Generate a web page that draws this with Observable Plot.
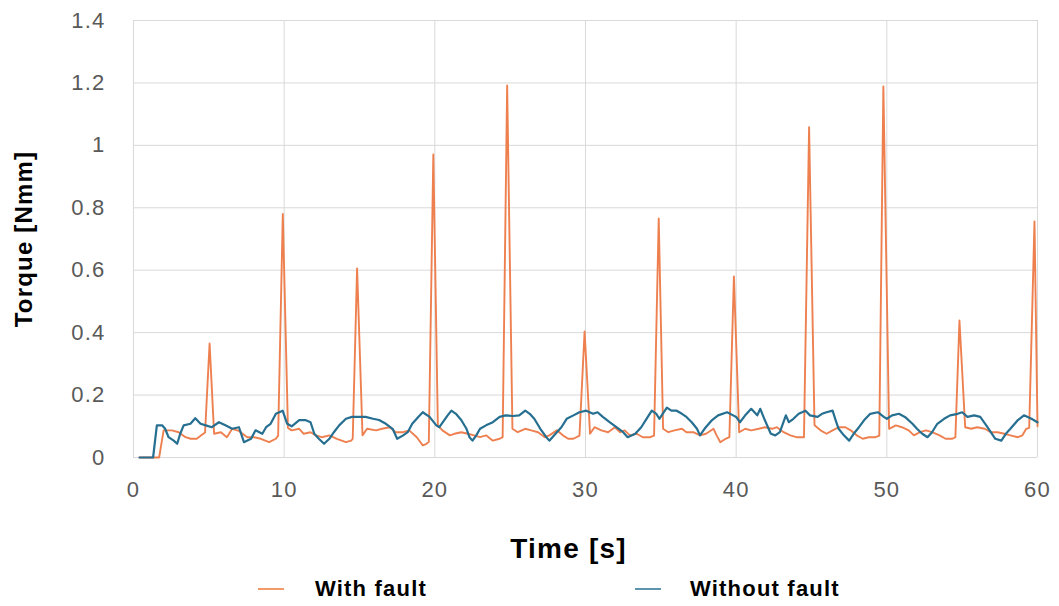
<!DOCTYPE html>
<html>
<head>
<meta charset="utf-8">
<script src="https://cdn.jsdelivr.net/npm/d3@7"></script>
<script src="https://cdn.jsdelivr.net/npm/@observablehq/plot@0.6"></script>
<style>
  html, body { margin: 0; padding: 0; background: #fff; }
  body { width: 1059px; height: 606px; overflow: hidden; font-family: "Liberation Sans", Arial, sans-serif; }
  #legend { position: relative; width: 1059px; height: 41px; }
  .sw { position: absolute; top: 23px; height: 2px; width: 26px; }
  .lt { position: absolute; top: 11px; font-weight: bold; font-size: 22px; letter-spacing: 1.2px; color: #000; }
</style>
</head>
<body>
<div id="chart"></div>
<div id="legend">
  <div class="sw" style="left:258px;background:#F29A68"></div>
  <div class="lt" style="left:315px">With fault</div>
  <div class="sw" style="left:635px;background:#5C93AD"></div>
  <div class="lt" style="left:690px">Without fault</div>
</div>
<script>
const seriesNames = ["With fault", "Without fault"];
const xTicks = [0, 10, 20, 30, 40, 50, 60];
const yTicks = [0, 0.2, 0.4, 0.6, 0.8, 1, 1.2, 1.4];
const yTickLabels = ["0", "0.2", "0.4", "0.6", "0.8", "1", "1.2", "1.4"];

const timeFault = [0.4,1.7,2.0,2.55,3.0,3.45,3.8,4.2,4.5,4.75,5.05,5.35,5.8,6.2,6.55,7.0,7.55,8.0,8.45,9.0,9.45,9.6,9.91,10.25,10.5,11.0,11.3,11.75,12.1,12.5,13.0,13.5,14.1,14.45,14.55,14.84,15.2,15.5,16.1,16.5,17.0,17.4,17.9,18.3,18.8,19.2,19.45,19.6,19.9,20.2,20.5,21.0,21.3,21.75,22.2,22.6,23.0,23.4,23.85,24.3,24.5,24.8,25.15,25.5,26.0,26.4,26.85,27.3,27.6,28.1,28.5,28.85,29.2,29.6,29.94,30.3,30.6,31.05,31.5,31.95,32.3,32.6,32.95,33.4,33.8,34.3,34.55,34.86,35.15,35.5,35.9,36.4,36.7,37.15,37.6,38.0,38.5,38.7,38.95,39.3,39.55,39.85,40.2,40.6,41.0,41.5,41.9,42.4,42.7,43.15,43.6,44.0,44.5,44.84,45.2,45.6,46.0,46.4,46.8,47.25,47.6,48.0,48.4,48.8,49.25,49.5,49.77,50.15,50.6,51.0,51.45,51.8,52.2,52.6,53.0,53.5,53.9,54.35,54.55,54.82,55.2,55.6,56.0,56.5,56.9,57.35,57.8,58.2,58.7,59.0,59.25,59.45,59.8,60.0];
const torqueFault = [0,0,0.087,0.087,0.081,0.065,0.06,0.06,0.071,0.08,0.365,0.076,0.081,0.065,0.092,0.085,0.065,0.065,0.06,0.049,0.06,0.07,0.78,0.095,0.087,0.092,0.076,0.081,0.071,0.065,0.071,0.06,0.049,0.054,0.06,0.606,0.071,0.092,0.087,0.092,0.097,0.081,0.081,0.087,0.065,0.039,0.044,0.05,0.971,0.103,0.087,0.071,0.076,0.081,0.076,0.071,0.065,0.071,0.054,0.06,0.065,1.192,0.092,0.081,0.092,0.087,0.081,0.065,0.071,0.087,0.071,0.06,0.06,0.07,0.404,0.076,0.097,0.087,0.081,0.097,0.081,0.087,0.071,0.076,0.065,0.065,0.07,0.766,0.092,0.081,0.087,0.092,0.081,0.081,0.071,0.076,0.092,0.071,0.049,0.06,0.065,0.58,0.081,0.092,0.087,0.092,0.097,0.092,0.097,0.081,0.071,0.065,0.065,1.058,0.103,0.087,0.076,0.087,0.097,0.097,0.087,0.071,0.06,0.065,0.065,0.07,1.189,0.092,0.103,0.097,0.087,0.071,0.081,0.087,0.081,0.071,0.06,0.06,0.065,0.439,0.097,0.092,0.097,0.092,0.081,0.081,0.076,0.071,0.065,0.071,0.092,0.095,0.756,0.1];

const timeNoFault = [0.4,1.3,1.55,1.9,2.1,2.33,2.67,2.9,3.1,3.33,3.78,4.1,4.45,4.8,5.2,5.67,6.1,6.55,7.0,7.33,7.8,8.1,8.55,8.8,9.1,9.45,9.9,10.2,10.5,11.0,11.4,11.75,12.0,12.3,12.65,13.0,13.3,13.65,14.1,14.5,14.95,15.4,15.9,16.3,16.75,17.2,17.5,17.9,18.2,18.5,18.9,19.2,19.65,20.1,20.3,20.85,21.1,21.4,21.75,22.1,22.3,22.5,22.75,23.0,23.4,23.85,24.3,24.7,25.2,25.6,26.0,26.3,26.6,27.0,27.4,27.6,28.1,28.4,28.75,29.2,29.6,30.05,30.5,30.8,31.15,31.6,32.05,32.5,32.8,33.3,33.7,34.05,34.4,34.7,34.9,35.4,35.7,36.05,36.4,36.7,37.05,37.4,37.6,37.9,38.4,38.8,39.4,39.8,40.0,40.25,40.6,41.0,41.4,41.6,41.9,42.3,42.6,42.9,43.3,43.5,43.8,44.15,44.6,44.9,45.4,45.7,46.0,46.4,46.6,46.8,47.15,47.5,47.8,48.15,48.5,48.9,49.4,49.8,50.0,50.35,50.8,51.2,51.7,52.0,52.35,52.7,53.0,53.35,53.8,54.2,54.7,55.0,55.35,55.8,56.2,56.6,56.9,57.2,57.6,57.9,58.2,58.7,59.1,59.6,60.0];
const torqueNoFault = [0,0,0.103,0.103,0.092,0.065,0.054,0.044,0.076,0.103,0.108,0.126,0.108,0.103,0.097,0.113,0.103,0.092,0.097,0.049,0.06,0.087,0.076,0.097,0.108,0.14,0.15,0.108,0.1,0.12,0.12,0.113,0.076,0.06,0.044,0.06,0.081,0.103,0.124,0.13,0.13,0.13,0.124,0.12,0.108,0.092,0.06,0.071,0.081,0.108,0.13,0.145,0.13,0.103,0.097,0.135,0.15,0.14,0.12,0.092,0.065,0.054,0.071,0.092,0.103,0.113,0.13,0.135,0.133,0.135,0.15,0.14,0.124,0.092,0.065,0.054,0.081,0.097,0.124,0.135,0.145,0.15,0.14,0.145,0.13,0.113,0.097,0.081,0.065,0.076,0.097,0.124,0.15,0.14,0.124,0.16,0.15,0.15,0.14,0.13,0.113,0.092,0.071,0.092,0.12,0.135,0.145,0.135,0.13,0.113,0.135,0.156,0.135,0.156,0.12,0.076,0.071,0.081,0.135,0.113,0.124,0.14,0.15,0.135,0.13,0.14,0.145,0.15,0.12,0.092,0.071,0.054,0.076,0.097,0.12,0.14,0.145,0.13,0.124,0.135,0.14,0.13,0.108,0.092,0.076,0.065,0.081,0.108,0.124,0.135,0.14,0.145,0.13,0.135,0.13,0.103,0.081,0.06,0.054,0.076,0.092,0.12,0.135,0.124,0.113];

const faultData = timeFault.map((t, i) => ({t, v: torqueFault[i], s: seriesNames[0]}));
const noFaultData = timeNoFault.map((t, i) => ({t, v: torqueNoFault[i], s: seriesNames[1]}));

const chart = Plot.plot({
  width: 1059,
  height: 565,
  marginLeft: 133,
  marginRight: 22,
  marginTop: 20,
  marginBottom: 108,
  style: {fontFamily: "'Liberation Sans', Arial, sans-serif", fontSize: "22px", color: "#595959", background: "#fff", letterSpacing: "1.2px"},
  x: {domain: [0, 60]},
  y: {domain: [0, 1.4]},
  marks: [
    Plot.gridX(xTicks, {stroke: "#d9d9d9", strokeOpacity: 1, strokeWidth: 1}),
    Plot.gridY(yTicks, {stroke: "#d9d9d9", strokeOpacity: 1, strokeWidth: 1}),
    Plot.axisX(xTicks, {tickSize: 0, tickPadding: 24, label: null, fill: "#595959", fontSize: 22}),
    Plot.axisY(yTicks, {tickSize: 0, tickPadding: 28, label: null, fill: "#595959", fontSize: 22,
      tickFormat: (d) => yTickLabels[yTicks.indexOf(d)]}),
    Plot.line(faultData, {x: "t", y: "v", stroke: "#EE8050", strokeWidth: 1.9}),
    Plot.line(noFaultData, {x: "t", y: "v", stroke: "#266F90", strokeWidth: 2.2}),
    Plot.text(["Time [s]"], {frameAnchor: "bottom", lineAnchor: "bottom", dx: -17, dy: 100, text: (d) => d, fill: "#000", fontWeight: "bold", fontSize: 28}),
    Plot.text(["Torque [Nmm]"], {frameAnchor: "left", textAnchor: "middle", dx: -109, rotate: -90, text: (d) => d, fill: "#000", fontWeight: "bold", fontSize: 24})
  ]
});
document.getElementById("chart").appendChild(chart);
</script>
</body>
</html>
